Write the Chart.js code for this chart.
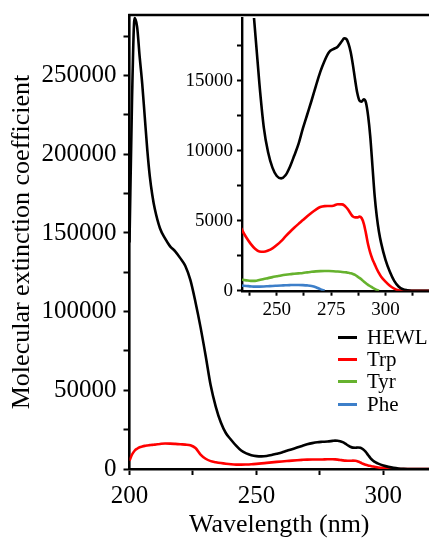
<!DOCTYPE html>
<html>
<head>
<meta charset="utf-8">
<script src="https://cdn.jsdelivr.net/npm/chart.js@4.4.0/dist/chart.umd.min.js"></script>
<style>
  html, body { margin: 0; padding: 0; background: #fff; }
  #wrap { position: relative; width: 429px; height: 538px; overflow: hidden; }
  #main { position: absolute; left: 0; top: 0; }
  #inset { position: absolute; left: 180px; top: 0; }
  #legend {
    position: absolute; left: 338px; top: 326px;
    font-family: 'Liberation Serif', serif; font-size: 21px; color: #000;
  }
  #legend .row { display: flex; align-items: center; height: 22.3px; }
  #legend .swatch { width: 19px; height: 3px; margin-right: 10px; }
</style>
</head>
<body>
<div id="wrap">
  <canvas id="main" width="429" height="538"></canvas>
  <canvas id="inset" width="249" height="320"></canvas>
  <div id="legend"></div>
</div>
<script>
// Absorption spectra (wavelength in nm, molar extinction coefficient)
const wavelength = [200, 201, 202, 203, 204, 205, 206, 207, 208, 209, 210, 212, 214, 216, 218, 220, 222, 224, 226, 228,
  230, 232, 234, 236, 238, 240, 242, 244, 246, 248, 250, 252, 254, 256, 258, 260, 262, 264, 266, 268,
  270, 272, 274, 276, 278, 280, 281, 282, 283, 284, 285, 286, 287, 288, 289, 290, 291, 292, 293, 294,
  295, 296, 297, 298, 300, 302, 304, 306, 308, 310, 312, 315, 318, 320];

const hewl = [144000, 235000, 286500, 281000, 262000, 245000, 224000, 203000, 186000, 174000, 165000, 153000, 146500, 141500, 138300, 134000, 129000, 120000, 106000, 90000,
  72000, 53000, 39500, 29500, 22700, 18600, 14800, 11700, 9900, 8800, 8200, 8030, 8250, 8850, 9650, 10500, 11600, 12600, 13600, 14650,
  15650, 16450, 17050, 17280, 17450, 17850, 18050, 18000, 17650, 17050, 16150, 15100, 14150, 13600, 13520, 13680, 13450, 12500, 11000, 8900,
  6800, 5300, 4200, 3400, 2200, 1350, 700, 300, 100, 30, 0, 0, 0, 0];

const trp = [5300, 9200, 11600, 12900, 13800, 14300, 14700, 14950, 15150, 15350, 15500, 15900, 16200, 16150, 15950, 15700, 15500, 15100, 13300, 9200,
  6500, 5000, 4350, 3800, 3350, 3000, 2800, 2780, 2870, 3030, 3270, 3550, 3880, 4200, 4500, 4780, 5050, 5330, 5580, 5800,
  5980, 6050, 6060, 6080, 6180, 6170, 6100, 5950, 5750, 5500, 5300, 5240, 5240, 5300, 5200, 4800, 4100, 3300, 2700, 2250,
  1900, 1550, 1250, 1000, 650, 350, 150, 30, 0, 0, 0, 0, 0, 0];

const tyrWavelength = [234, 236, 238, 240, 242, 244, 246, 248, 250, 252, 254, 256, 258, 260, 262, 264, 266, 268, 270, 272,
  274, 276, 278, 280, 281, 282, 283, 284, 285, 286, 287, 288, 289, 290, 291, 292, 293, 294, 295, 296, 297];
const tyr = [780, 740, 700, 700, 760, 840, 900, 970, 1030, 1090, 1140, 1180, 1210, 1240, 1270, 1310, 1350, 1380, 1400, 1410,
  1405, 1390, 1370, 1340, 1325, 1310, 1280, 1250, 1200, 1130, 1020, 920, 800, 660, 530, 420, 320, 220, 130, 60, 0];

const pheWavelength = [234, 236, 238, 240, 242, 244, 246, 248, 250, 252, 254, 256, 258, 260, 262, 264, 266, 268, 270, 272];
const phe = [360, 340, 310, 290, 290, 300, 320, 340, 355, 370, 385, 400, 410, 410, 400, 380, 340, 250, 110, 0];

const seriesNames = ['HEWL', 'Trp', 'Tyr', 'Phe'];
const seriesColors = ['#000000', '#ff0000', '#66b22e', '#3d7fc9'];

// tick positions (every other one gets a label)
const mainXTicks = [200, 225, 250, 275, 300];
const mainYTicks = [0, 25000, 50000, 75000, 100000, 125000, 150000, 175000, 200000, 225000, 250000, 275000];
const insetXTicks = [237.5, 250, 262.5, 275, 287.5, 300, 312.5];
const insetYTicks = [0, 2500, 5000, 7500, 10000, 12500, 15000, 17500];

const pairs = (xs, ys) => xs.map((x, i) => ({ x: x, y: ys[i] }));
const fixedTicks = list => scale => { scale.ticks = list.map(v => ({ value: v })); };

Chart.defaults.font.family = "'Liberation Serif', serif";
Chart.defaults.color = '#000';

function lineSet(i, xs, ys) {
  return {
    label: seriesNames[i],
    data: pairs(xs, ys),
    borderColor: seriesColors[i],
    borderWidth: 2.6,
    pointRadius: 0,
    cubicInterpolationMode: 'monotone',
    fill: false
  };
}

// line along the top of the main plot area
const topBorder = {
  id: 'topBorder',
  afterDraw(chart) {
    const { ctx, chartArea } = chart;
    ctx.save();
    ctx.strokeStyle = '#000';
    ctx.lineWidth = 2.6;
    ctx.beginPath();
    ctx.moveTo(chartArea.left - 1.3, chartArea.top);
    ctx.lineTo(chartArea.right, chartArea.top);
    ctx.stroke();
    ctx.restore();
  }
};

const axisGrid = len => ({ drawOnChartArea: false, tickLength: len, tickWidth: 2, tickColor: '#000' });

// fixed axis box size; drop the label overhang so layout.padding alone sets the plot edges
const fixWidth = w => s => { s.width = w; s.paddingTop = 0; s.paddingBottom = 0; };
const fixHeight = h => s => { s.height = h; };

new Chart(document.getElementById('main'), {
  type: 'line',
  data: {
    datasets: [lineSet(0, wavelength, hewl), lineSet(1, wavelength, trp)]
  },
  options: {
    responsive: false,
    animation: false,
    layout: { autoPadding: false, padding: { top: 15, right: 0, left: 0, bottom: 0 } },
    plugins: { legend: { display: false }, tooltip: { enabled: false } },
    scales: {
      x: {
        type: 'linear',
        min: 200,
        max: 318,
        grid: axisGrid(6),
        border: { color: '#000', width: 2.6 },
        afterBuildTicks: fixedTicks(mainXTicks),
        ticks: {
          autoSkip: false,
          maxRotation: 0,
          padding: 6,
          font: { size: 25 },
          callback: v => (v % 50 === 0 ? String(v) : '')
        },
        title: {
          display: true,
          text: 'Wavelength (nm)',
          font: { size: 26, lineHeight: 1 },
          padding: { top: 0, bottom: 0 }
        },
        afterFit: fixHeight(69)
      },
      y: {
        min: 0,
        max: 288500,
        grid: axisGrid(6),
        border: { color: '#000', width: 2.6 },
        afterBuildTicks: fixedTicks(mainYTicks),
        ticks: {
          autoSkip: false,
          padding: 7,
          font: { size: 25 },
          callback: v => (v % 50000 === 0 ? String(v) : '')
        },
        title: {
          display: true,
          text: 'Molecular extinction coefficient',
          font: { size: 26, lineHeight: 1 },
          padding: { top: 9, bottom: 0 }
        },
        afterFit: fixWidth(129.5)
      }
    }
  },
  plugins: [topBorder]
});

new Chart(document.getElementById('inset'), {
  type: 'line',
  data: {
    datasets: [
      lineSet(0, wavelength, hewl),
      lineSet(1, wavelength, trp),
      lineSet(2, tyrWavelength, tyr),
      lineSet(3, pheWavelength, phe)
    ]
  },
  options: {
    responsive: false,
    animation: false,
    layout: { autoPadding: false, padding: { top: 18, right: 0, left: 0, bottom: 0 } },
    plugins: { legend: { display: false }, tooltip: { enabled: false } },
    scales: {
      x: {
        type: 'linear',
        min: 234,
        max: 320,
        grid: axisGrid(5),
        border: { color: '#000', width: 2.4 },
        afterBuildTicks: fixedTicks(insetXTicks),
        ticks: {
          autoSkip: false,
          maxRotation: 0,
          padding: 3,
          font: { size: 19 },
          callback: v => (v % 25 === 0 ? String(v) : '')
        },
        afterFit: fixHeight(29.3)
      },
      y: {
        min: 0,
        max: 19500,
        grid: axisGrid(5),
        border: { color: '#000', width: 2.4 },
        afterBuildTicks: fixedTicks(insetYTicks),
        ticks: {
          autoSkip: false,
          padding: 4,
          font: { size: 19 },
          callback: v => (v % 5000 === 0 ? String(v) : '')
        },
        afterFit: fixWidth(62)
      }
    }
  }
});

// legend for the four spectra
const legend = document.getElementById('legend');
seriesNames.forEach((name, i) => {
  const row = document.createElement('div');
  row.className = 'row';
  const sw = document.createElement('span');
  sw.className = 'swatch';
  sw.style.background = seriesColors[i];
  const label = document.createElement('span');
  label.textContent = name;
  row.appendChild(sw);
  row.appendChild(label);
  legend.appendChild(row);
});
</script>
</body>
</html>
